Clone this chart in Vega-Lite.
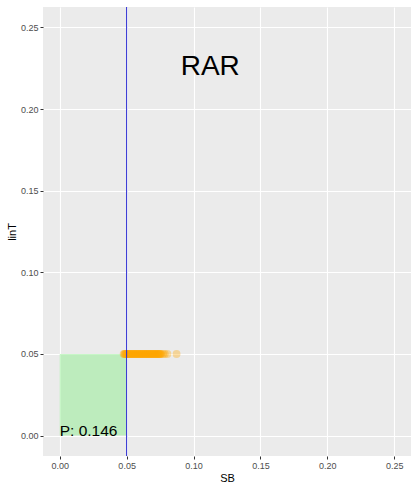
{
  "$schema": "https://vega.github.io/schema/vega-lite/v6.json",
  "autosize": "none",
  "width": 368,
  "height": 449,
  "padding": {"left": 43, "top": 7, "right": 0, "bottom": 29},
  "background": "white",
  "config": {
    "view": {"fill": "#EBEBEB", "stroke": null},
    "font": "Liberation Sans",
    "axis": {
      "domain": false,
      "grid": true,
      "gridColor": "white",
      "gridWidth": 1.1,
      "tickColor": "#333333",
      "tickSize": 3,
      "labelFontSize": 9,
      "labelColor": "#4d4d4d",
      "labelPadding": 2,
      "titleFontSize": 11,
      "titleFontWeight": "normal",
      "titleColor": "black",
      "format": ".2f"
    }
  },
  "datasets": {
    "rect": [{"x0": 0, "x1": 0.05, "y0": 0, "y1": 0.05}],
    "pts": [
      {"SB": 0.0478, "linT": 0.05}, {"SB": 0.0483, "linT": 0.05}, {"SB": 0.0488, "linT": 0.05},
      {"SB": 0.0493, "linT": 0.05}, {"SB": 0.0498, "linT": 0.05}, {"SB": 0.0503, "linT": 0.05},
      {"SB": 0.0508, "linT": 0.05}, {"SB": 0.0513, "linT": 0.05}, {"SB": 0.0518, "linT": 0.05},
      {"SB": 0.0523, "linT": 0.05}, {"SB": 0.0528, "linT": 0.05}, {"SB": 0.0533, "linT": 0.05},
      {"SB": 0.0538, "linT": 0.05}, {"SB": 0.0543, "linT": 0.05}, {"SB": 0.0548, "linT": 0.05},
      {"SB": 0.0553, "linT": 0.05}, {"SB": 0.0558, "linT": 0.05}, {"SB": 0.0563, "linT": 0.05},
      {"SB": 0.0568, "linT": 0.05}, {"SB": 0.0573, "linT": 0.05}, {"SB": 0.0578, "linT": 0.05},
      {"SB": 0.0583, "linT": 0.05}, {"SB": 0.0588, "linT": 0.05}, {"SB": 0.0593, "linT": 0.05},
      {"SB": 0.0598, "linT": 0.05}, {"SB": 0.0603, "linT": 0.05}, {"SB": 0.0608, "linT": 0.05},
      {"SB": 0.0613, "linT": 0.05}, {"SB": 0.0618, "linT": 0.05}, {"SB": 0.0623, "linT": 0.05},
      {"SB": 0.0628, "linT": 0.05}, {"SB": 0.0633, "linT": 0.05}, {"SB": 0.0638, "linT": 0.05},
      {"SB": 0.0643, "linT": 0.05}, {"SB": 0.0648, "linT": 0.05}, {"SB": 0.0653, "linT": 0.05},
      {"SB": 0.0658, "linT": 0.05}, {"SB": 0.0663, "linT": 0.05}, {"SB": 0.0668, "linT": 0.05},
      {"SB": 0.0673, "linT": 0.05}, {"SB": 0.0678, "linT": 0.05}, {"SB": 0.0683, "linT": 0.05},
      {"SB": 0.0688, "linT": 0.05}, {"SB": 0.0693, "linT": 0.05}, {"SB": 0.0698, "linT": 0.05},
      {"SB": 0.0703, "linT": 0.05}, {"SB": 0.0708, "linT": 0.05}, {"SB": 0.0713, "linT": 0.05},
      {"SB": 0.0718, "linT": 0.05}, {"SB": 0.0723, "linT": 0.05}, {"SB": 0.0728, "linT": 0.05},
      {"SB": 0.0733, "linT": 0.05}, {"SB": 0.0738, "linT": 0.05}, {"SB": 0.0743, "linT": 0.05},
      {"SB": 0.0748, "linT": 0.05}, {"SB": 0.0753, "linT": 0.05}, {"SB": 0.0756, "linT": 0.05},
      {"SB": 0.0772, "linT": 0.05}, {"SB": 0.0785, "linT": 0.05}, {"SB": 0.0805, "linT": 0.05},
      {"SB": 0.0873, "linT": 0.05}
    ],
    "vline": [{"x": 0.05}],
    "labels": [
      {"x": 0, "y": 0, "label": "P: 0.146"}
    ],
    "title": [{"x": 0.1125, "y": 0.226, "label": "RAR"}]
  },
  "layer": [
    {
      "data": {"name": "rect"},
      "mark": {"type": "rect", "color": "lightgreen", "opacity": 0.5},
      "encoding": {
        "x": {"field": "x0", "type": "quantitative", "scale": {"domain": [-0.0125, 0.2625], "nice": false, "zero": false},
              "axis": {"values": [0, 0.05, 0.1, 0.15, 0.2, 0.25], "title": "SB", "titlePadding": 2}},
        "x2": {"field": "x1"},
        "y": {"field": "y0", "type": "quantitative", "scale": {"domain": [-0.0125, 0.2625], "nice": false, "zero": false},
              "axis": {"values": [0, 0.05, 0.1, 0.15, 0.2, 0.25], "title": "linT", "titlePadding": 3}},
        "y2": {"field": "y1"}
      }
    },
    {
      "data": {"name": "pts"},
      "mark": {"type": "point", "filled": true, "color": "orange", "opacity": 0.35, "size": 62, "shape": "circle"},
      "encoding": {
        "x": {"field": "SB", "type": "quantitative",
              "axis": {"values": [0.025, 0.075, 0.125, 0.175, 0.225], "labels": false, "ticks": false, "title": null, "gridWidth": 0.5, "orient": "bottom"}},
        "y": {"field": "linT", "type": "quantitative",
              "axis": {"values": [0.025, 0.075, 0.125, 0.175, 0.225], "labels": false, "ticks": false, "title": null, "gridWidth": 0.5, "orient": "left"}}
      }
    },
    {
      "data": {"name": "vline"},
      "mark": {"type": "rule", "color": "#2626d0", "strokeWidth": 1},
      "encoding": {
        "x": {"field": "x", "type": "quantitative", "axis": null}
      }
    },
    {
      "data": {"name": "labels"},
      "mark": {"type": "text", "align": "left", "baseline": "alphabetic", "fontSize": 15.5, "color": "black", "dy": 0},
      "encoding": {
        "x": {"field": "x", "type": "quantitative", "axis": null},
        "y": {"field": "y", "type": "quantitative", "axis": null},
        "text": {"field": "label"}
      }
    },
    {
      "data": {"name": "title"},
      "mark": {"type": "text", "align": "center", "baseline": "middle", "fontSize": 28, "color": "black"},
      "encoding": {
        "x": {"field": "x", "type": "quantitative", "axis": null},
        "y": {"field": "y", "type": "quantitative", "axis": null},
        "text": {"field": "label"}
      }
    }
  ],
  "resolve": {"axis": {"x": "independent", "y": "independent"}}
}
